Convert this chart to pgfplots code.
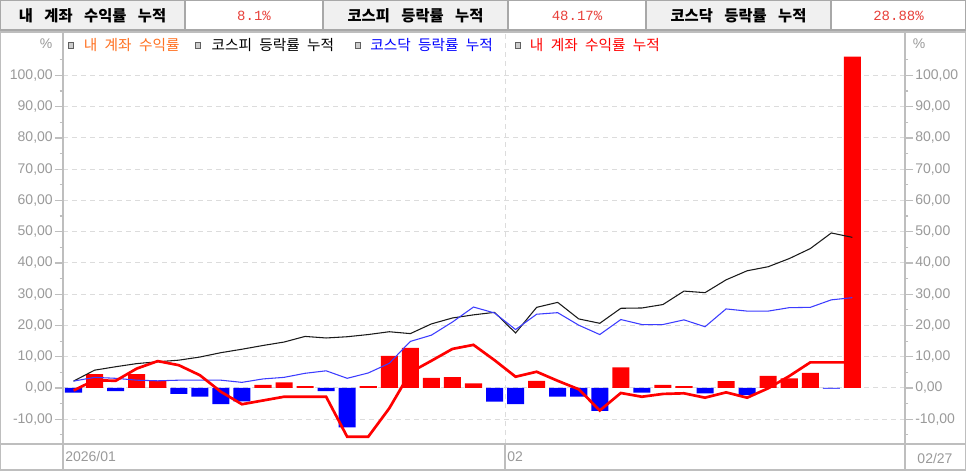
\documentclass[border=0pt]{standalone}
\usepackage{fontspec}
\setmainfont{Noto Sans CJK KR}
\newfontfamily\monof{Liberation Mono}
\newfontfamily\lsans{Liberation Sans}
\usepackage{pgfplots}
\pgfplotsset{compat=1.18}
\definecolor{axgray}{HTML}{BEBEBE}
\definecolor{lblgray}{HTML}{9A9A9A}
\definecolor{gridgray}{HTML}{DCDCDC}
\definecolor{hdrgray}{HTML}{F0F0F0}
\definecolor{hdrline}{HTML}{A8A8A8}
\definecolor{valred}{HTML}{E8403A}
\definecolor{legorange}{HTML}{FF7020}
\definecolor{barred}{HTML}{FF0000}
\definecolor{barblue}{HTML}{0000FF}
\definecolor{lineblue}{HTML}{3C3CFF}
\definecolor{lineblack}{HTML}{1A1A1A}
\newcommand{\ws}{\hspace{0.75em}}
\newcommand{\ls}{\hspace{0.5em}}
\pgfplotsset{
  commonax/.style={
    at={(47.25pt,20.25pt)}, anchor=south west,
    width=631.5pt, height=309pt, scale only axis,
    xmin=-0.5, xmax=39.5, ymin=-17.92, ymax=113.9,
    axis line style={axgray, line width=1.2pt},
    ytick={-10,0,...,100}, minor ytick={-15,-5,...,105},
    tick align=outside,
    major tick length=6pt, minor tick length=2.5pt,
    tick style={axgray, line width=0.9pt},
    yticklabel style={font=\lsans\fontsize{10.5}{12}\selectfont, text=lblgray, inner sep=1.5pt},
    /pgf/number format/fixed, /pgf/number format/fixed zerofill,
    /pgf/number format/precision=2, /pgf/number format/use comma,
    /pgf/number format/1000 sep={}, /pgf/number format/assume math mode=true,
  }
}
\begin{document}
\begin{tikzpicture}[x=0.75pt,y=0.75pt]
\useasboundingbox (0,0) rectangle (966,471);
\fill[white] (0,0) rectangle (966,471);

\begin{axis}[commonax,
  xtick=\empty,
  extra x ticks={20.5}, extra x tick labels={},
  extra x tick style={grid=major, tick style={draw=none}},
  ytick pos=left,
  ymajorgrids=true,
  grid style={gridgray, line width=0.75pt, dash pattern=on 3.75pt off 3pt},
  legend columns=4,
  legend style={at={(0.00594,0.9673)}, anchor=west, draw=none, fill=none, inner sep=0pt,
    /tikz/every even column/.append style={column sep=0pt},
    nodes={inner sep=0pt, font=\fontsize{11}{13}\selectfont}},
  legend cell align=left,
  legend image code/.code={\draw[draw=gray!75!black, fill=gray!40, line width=0.5pt] (0pt,-2pt) rectangle (3.75pt,2.25pt);},
]
% daily bars: positive (red)
\addplot[ybar, bar width=0.81, bar shift=0pt, fill=barred, draw=none, forget plot] coordinates {
(1,4.4) (3,4.4) (4,2.2) (9,1.0) (10,1.8) (11,0.6) (14,0.6) (15,10.3) (16,12.8) (17,3.2)
(18,3.5) (19,1.5) (22,2.3) (26,6.6) (28,1.0) (29,0.6) (31,2.2) (33,3.9) (34,3.1) (35,4.8) (37,106)
};
% daily bars: negative (blue)
\addplot[ybar, bar width=0.81, bar shift=0pt, fill=barblue, draw=none, forget plot] coordinates {
(0,-1.5) (2,-1.0) (5,-1.9) (6,-2.8) (7,-5.2) (8,-4.3) (12,-1.0) (13,-12.6) (20,-4.4) (21,-5.2)
(23,-2.8) (24,-2.8) (25,-7.3) (27,-1.5) (30,-1.7) (32,-2.3) (36,-0.2)
};
% KOSPI cumulative
\addplot[lineblack, line width=0.8pt, forget plot] coordinates {
(0,2.2) (1,5.7) (2,6.8) (3,7.8) (4,8.4) (5,8.9) (6,9.9) (7,11.3) (8,12.4) (9,13.6)
(10,14.7) (11,16.5) (12,16.0) (13,16.4) (14,17.1) (15,18.0) (16,17.4) (17,20.5) (18,22.4) (19,23.4)
(20,24.2) (21,17.6) (22,25.8) (23,27.4) (24,22.1) (25,20.7) (26,25.5) (27,25.6) (28,26.7) (29,31.0)
(30,30.5) (31,34.6) (32,37.5) (33,38.8) (34,41.4) (35,44.6) (36,49.6) (37,48.2)
};
% KOSDAQ cumulative
\addplot[lineblue, line width=0.8pt, forget plot] coordinates {
(0,2.2) (1,3.4) (2,3.1) (3,2.5) (4,2.3) (5,2.5) (6,2.5) (7,2.5) (8,1.8) (9,2.9)
(10,3.4) (11,4.7) (12,5.5) (13,3.1) (14,4.8) (15,7.9) (16,14.9) (17,16.9) (18,21.1) (19,25.9)
(20,24.0) (21,18.7) (22,23.6) (23,24.1) (24,20.1) (25,17.1) (26,21.9) (27,20.3) (28,20.3) (29,21.8)
(30,19.6) (31,25.3) (32,24.6) (33,24.6) (34,25.7) (35,25.8) (36,28.2) (37,28.9)
};
% my account cumulative
\addplot[barred, line width=2pt, forget plot] coordinates {
(0,-0.8) (1,2.5) (2,2.3) (3,6.2) (4,8.6) (5,7.3) (6,4.1) (7,-1.2) (8,-5.2) (9,-4.0)
(10,-2.8) (11,-2.8) (12,-2.8) (13,-15.6) (14,-15.6) (15,-6.5) (16,5.0) (17,8.7) (18,12.5) (19,13.8)
(20,8.9) (21,3.6) (22,5.2) (23,2.3) (24,-0.4) (25,-7.2) (26,-1.6) (27,-2.8) (28,-1.9) (29,-1.7)
(30,-3.1) (31,-1.4) (32,-3.1) (33,-0.1) (34,3.8) (35,8.2) (36,8.2) (37,8.2)
};
\addlegendimage{black}
\addlegendentry{\makebox[90.75pt][l]{\hspace{7.5pt}\textcolor{legorange}{내\ls 계좌\ls 수익률}}}
\addlegendimage{black}
\addlegendentry{\makebox[115.5pt][l]{\hspace{8.25pt}\textcolor{black}{코스피\ls 등락률\ls 누적}}}
\addlegendimage{black}
\addlegendentry{\makebox[116.25pt][l]{\hspace{7.5pt}\textcolor{barblue}{코스닥\ls 등락률\ls 누적}}}
\addlegendimage{black}
\addlegendentry{\makebox[112.5pt][l]{\hspace{6.75pt}\textcolor{barred}{내\ls 계좌\ls 수익률\ls 누적}}}
\end{axis}

\begin{axis}[commonax,
  hide x axis,
  ytick pos=right, yticklabel pos=right,
]
\addplot[draw=none, forget plot] coordinates {(0,0)};
\end{axis}

% frame lines
\draw[axgray, line width=1.2pt] (0,439) -- (966,439);
\draw[axgray, line width=1.2pt] (0,27) -- (966,27);
\draw[axgray, line width=1.2pt] (0,1) -- (966,1);
\draw[axgray, line width=1.2pt] (63,439) -- (63,0);
\draw[axgray, line width=1.2pt] (905,439) -- (905,0);
\draw[axgray, line width=1.2pt] (505,27) -- (505,0);
\draw[axgray, line width=0.8pt] (0.5,0) -- (0.5,439);
\draw[axgray, line width=0.8pt] (965.5,0) -- (965.5,439);

% header
\fill[hdrgray] (0,441) rectangle (185,470.5);
\fill[hdrgray] (323,441) rectangle (508,470.5);
\fill[hdrgray] (646,441) rectangle (831,470.5);
\draw[hdrline, line width=0.9pt] (0,470.5) -- (966,470.5);
\draw[hdrline, line width=0.9pt] (0,441) -- (966,441);
\foreach \xx in {0.5,185,323,508,646,831,965.5} {\draw[hdrline, line width=0.9pt] (\xx,441) -- (\xx,470.5);}
\node[font=\bfseries\fontsize{11.5}{13}\selectfont] at (92.5,455.5) {내\ws 계좌\ws 수익률\ws 누적};
\node[font=\bfseries\fontsize{11.5}{13}\selectfont] at (415.5,455.5) {코스피\ws 등락률\ws 누적};
\node[font=\bfseries\fontsize{11.5}{13}\selectfont] at (738.5,455.5) {코스닥\ws 등락률\ws 누적};
\node[font=\monof\fontsize{10.5}{12}\selectfont, text=valred] at (254,455.5) {8.1\%};
\node[font=\monof\fontsize{10.5}{12}\selectfont, text=valred] at (577,455.5) {48.17\%};
\node[font=\monof\fontsize{10.5}{12}\selectfont, text=valred] at (898.5,455.5) {28.88\%};

% unit and date labels
\node[font=\lsans\fontsize{10.5}{12}\selectfont, text=lblgray] at (46,427) {\%};
\node[font=\lsans\fontsize{10.5}{12}\selectfont, text=lblgray] at (919,427) {\%};
\node[font=\lsans\fontsize{10.5}{12}\selectfont, text=lblgray, anchor=west, inner sep=0pt] at (65,14.5) {2026/01};
\node[font=\lsans\fontsize{10.5}{12}\selectfont, text=lblgray, anchor=west, inner sep=0pt] at (507,14.5) {02};
\node[font=\lsans\fontsize{10.5}{12}\selectfont, text=lblgray] at (935,13) {02/27};
\end{tikzpicture}
\end{document}
